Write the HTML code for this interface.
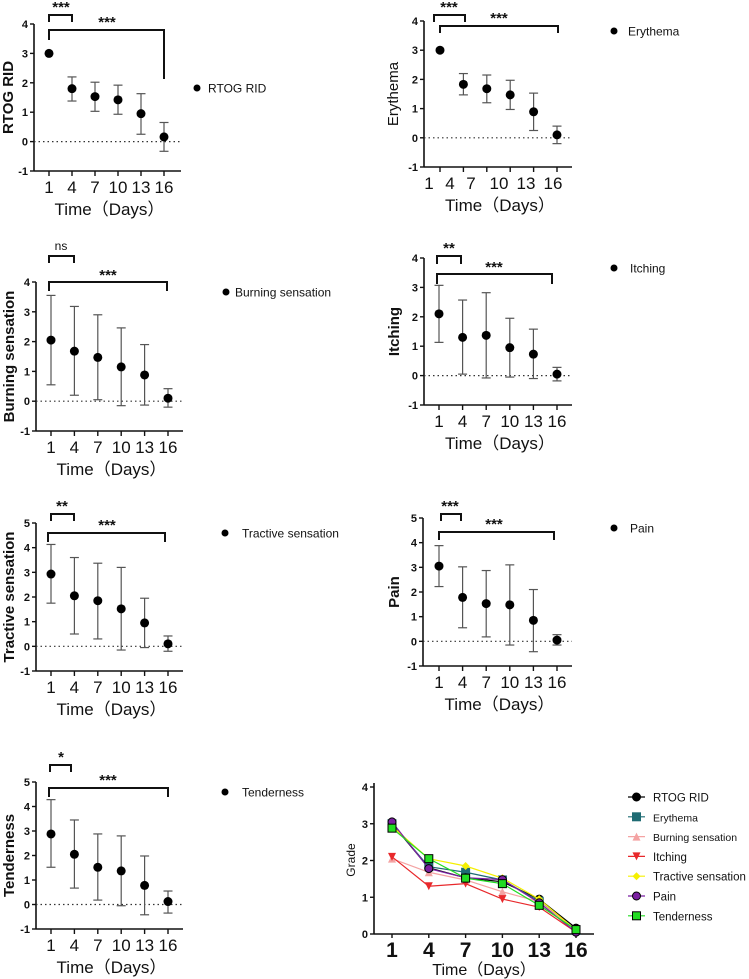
<!DOCTYPE html>
<html><head><meta charset="utf-8">
<style>
html,body{margin:0;padding:0;background:#fff;}
svg{display:block;font-family:"Liberation Sans",sans-serif;}
</style></head>
<body>
<svg id="fig" width="749" height="979" viewBox="0 0 749 979"></svg>
<script>
const days = [1,4,7,10,13,16];
const tickLabels = ["1","4","7","10","13","16"];
const rtogMean = [3,1.8,1.53,1.42,0.95,0.16];
const rtogHi = [3,2.2,2.02,1.92,1.63,0.65];
const rtogLo = [3,1.38,1.03,0.93,0.25,-0.33];
const eryMean = [3,1.83,1.68,1.47,0.89,0.1];
const eryHi = [3,2.2,2.15,1.97,1.53,0.4];
const eryLo = [3,1.47,1.2,0.97,0.25,-0.2];
const burnMean = [2.05,1.68,1.47,1.15,0.88,0.1];
const burnHi = [3.55,3.18,2.9,2.46,1.9,0.42];
const burnLo = [0.55,0.2,0.05,-0.15,-0.13,-0.2];
const itchMean = [2.1,1.3,1.37,0.95,0.73,0.05];
const itchHi = [3.07,2.57,2.82,1.95,1.58,0.28];
const itchLo = [1.13,0.05,-0.08,-0.05,-0.1,-0.18];
const tracMean = [2.93,2.05,1.85,1.52,0.95,0.1];
const tracHi = [4.13,3.6,3.37,3.2,1.95,0.42];
const tracLo = [1.75,0.5,0.3,-0.15,-0.05,-0.2];
const painMean = [3.05,1.78,1.53,1.48,0.85,0.05];
const painHi = [3.88,3.02,2.87,3.1,2.1,0.27];
const painLo = [2.22,0.55,0.18,-0.15,-0.42,-0.15];
const tendMean = [2.88,2.05,1.52,1.37,0.78,0.12];
const tendHi = [4.28,3.45,2.88,2.8,1.98,0.55];
const tendLo = [1.52,0.67,0.18,-0.05,-0.42,-0.35];
const yTicks4 = [-1,0,1,2,3,4];
const yTicks5 = [-1,0,1,2,3,4,5];
const gradeTicks = [0,1,2,3,4];

const NS="http://www.w3.org/2000/svg";
const svg=document.getElementById('fig');
function el(tag,attrs,parent,text){
  const e=document.createElementNS(NS,tag);
  for(const k in attrs) e.setAttribute(k,attrs[k]);
  if(text!==undefined) e.textContent=text;
  (parent||svg).appendChild(e);
  return e;
}

function panel(cfg){
  const g=el('g',{});
  
  
  const x0=cfg.x0, x1=cfg.x1;
  const xs=d=>x0+(d-1)*(x1-x0)/15;
  const ys=v=>cfg.yMin+(v-(-1))*(cfg.yTop-cfg.yMin)/(cfg.ticks[cfg.ticks.length-1]+1);
  const ya=el('line',{x1:cfg.ax,y1:ys(cfg.ticks[cfg.ticks.length-1]),x2:cfg.ax,y2:cfg.yMin,stroke:'#111','stroke-width':1.6},g);
   
  const xa=el('line',{x1:cfg.ax,y1:cfg.yMin,x2:cfg.axEnd,y2:cfg.yMin,stroke:'#111','stroke-width':1.6},g);
   
  cfg.ticks.forEach(t=>{
    el('line',{x1:cfg.ax-4,y1:ys(t),x2:cfg.ax,y2:ys(t),stroke:'#111','stroke-width':1.4},g);
    const tl=el('text',{x:cfg.ax-6,y:ys(t)+4,'text-anchor':'end','font-size':11,'font-weight':'bold',fill:'#111'},g,String(t));
     
  });
  days.forEach((d,i)=>{
    el('line',{x1:xs(d),y1:cfg.yMin,x2:xs(d),y2:cfg.yMin+5,stroke:'#111','stroke-width':1.4},g);
    const lx = cfg.labelX ? cfg.labelX[i] : xs(d);
    const tl=el('text',{x:lx,y:cfg.yMin+22,'text-anchor':'middle','font-size':17,fill:'#111'},g,tickLabels[i]);
     
  });
  el('line',{x1:cfg.ax,y1:ys(0),x2:cfg.axEnd,y2:ys(0),stroke:'#333','stroke-width':1.2,'stroke-dasharray':'1.5,3'},g);
  const xt=el('text',{x:(cfg.ax+cfg.axEnd)/2+2,y:cfg.yMin+44,'text-anchor':'middle','font-size':17,fill:'#111'},g,'Time（Days）');
   
  const ymid=(ys(cfg.ticks[cfg.ticks.length-1])+cfg.yMin)/2;
  const yt=el('text',{x:cfg.ytx,y:ymid,'text-anchor':'middle','font-size':15,'font-weight':cfg.ytBold?'bold':'normal',fill:'#111',transform:`rotate(-90 ${cfg.ytx} ${ymid})`},g,cfg.ytitle);
   
  days.forEach((d,i)=>{
    const x=xs(d);
    if(cfg.hi[i]!==cfg.lo[i]){
      el('line',{x1:x,y1:ys(cfg.hi[i]),x2:x,y2:ys(cfg.lo[i]),stroke:'#555','stroke-width':1.2},g);
      el('line',{x1:x-4.5,y1:ys(cfg.hi[i]),x2:x+4.5,y2:ys(cfg.hi[i]),stroke:'#555','stroke-width':1.2},g);
      el('line',{x1:x-4.5,y1:ys(cfg.lo[i]),x2:x+4.5,y2:ys(cfg.lo[i]),stroke:'#555','stroke-width':1.2},g);
    }
    const p=el('circle',{cx:x,cy:ys(cfg.mean[i]),r:4.5,fill:'#000'},g);
     
  });
  cfg.br.forEach(b=>{
    const path=`M${b.a},${b.la} L${b.a},${b.y} L${b.b},${b.y} L${b.b},${b.lb}`;
    const bp=el('path',{d:path,fill:'none',stroke:'#111','stroke-width':2},g);
     
    const st=el('text',{x:b.tx,y:b.ty,'text-anchor':'middle','font-size':b.s==='ns'?12:15,'font-weight':b.s==='ns'?'normal':'bold',fill:'#111'},g,b.s);
     
  });
  el('circle',{cx:cfg.lgx,cy:cfg.lgy,r:3.5,fill:'#000'},g);
  const lt=el('text',{x:cfg.lgx+cfg.lgdx,y:cfg.lgy+4.5,'font-size':12,fill:'#111'},g,cfg.ytitle);
   
}

panel({name:'rtog',x0:49,x1:164,ax:34,axEnd:181,yMin:171,yTop:24,ticks:yTicks4,mean:rtogMean,hi:rtogHi,lo:rtogLo,
  ytitle:'RTOG RID',ytx:13,ytBold:true,lgx:197,lgy:88,lgdx:11,
  br:[{a:49,b:72,y:15,la:22,lb:22,tx:61,ty:12,s:'***'},{a:49,b:164,y:30,la:40,lb:79,tx:107,ty:27,s:'***'}]});
panel({name:'erythema',x0:440,x1:557,ax:424,axEnd:572,yMin:167,yTop:21,ticks:yTicks4,mean:eryMean,hi:eryHi,lo:eryLo,
  ytitle:'Erythema',ytx:398,ytBold:false,lgx:614,lgy:31,lgdx:14,labelX:[429,450,471,499,526,553],
  br:[{a:434,b:465,y:15,la:22,lb:22,tx:449,ty:12,s:'***'},{a:440,b:558,y:26,la:33,lb:33,tx:499,ty:23,s:'***'}]});
panel({name:'burning',x0:51,x1:168,ax:36,axEnd:183,yMin:431,yTop:282,ticks:yTicks4,mean:burnMean,hi:burnHi,lo:burnLo,
  ytitle:'Burning sensation',ytx:14,ytBold:true,lgx:226,lgy:292,lgdx:9,
  br:[{a:49,b:74,y:256,la:263,lb:263,tx:61,ty:250,s:'ns'},{a:49,b:167,y:282,la:291,lb:291,tx:108,ty:280,s:'***'}]});
panel({name:'itching',x0:439,x1:557,ax:424,axEnd:572,yMin:405,yTop:258,ticks:yTicks4,mean:itchMean,hi:itchHi,lo:itchLo,
  ytitle:'Itching',ytx:399,ytBold:true,lgx:614,lgy:268,lgdx:16,
  br:[{a:437,b:461,y:256,la:264,lb:264,tx:449,ty:253,s:'**'},{a:437,b:552,y:274,la:284,lb:284,tx:494,ty:272,s:'***'}]});
panel({name:'tractive',x0:51,x1:168,ax:36,axEnd:183,yMin:671,yTop:523,ticks:yTicks5,mean:tracMean,hi:tracHi,lo:tracLo,
  ytitle:'Tractive sensation',ytx:14,ytBold:true,lgx:225,lgy:533,lgdx:17,
  br:[{a:51,b:74,y:514,la:521,lb:521,tx:62,ty:511,s:'**'},{a:48,b:165,y:533,la:542,lb:542,tx:107,ty:530,s:'***'}]});
panel({name:'pain',x0:439,x1:557,ax:423,axEnd:572,yMin:666,yTop:518,ticks:yTicks5,mean:painMean,hi:painHi,lo:painLo,
  ytitle:'Pain',ytx:399,ytBold:true,lgx:614,lgy:528,lgdx:16,
  br:[{a:441,b:461,y:514,la:521,lb:521,tx:450,ty:511,s:'***'},{a:439,b:554,y:532,la:540,lb:540,tx:494,ty:529,s:'***'}]});
panel({name:'tenderness',x0:51,x1:168,ax:36,axEnd:183,yMin:929,yTop:782,ticks:yTicks5,mean:tendMean,hi:tendHi,lo:tendLo,
  ytitle:'Tenderness',ytx:14,ytBold:true,lgx:225,lgy:792,lgdx:17,
  br:[{a:50,b:71,y:765,la:772,lb:772,tx:61,ty:762,s:'*'},{a:49,b:168,y:788,la:797,lb:797,tx:108,ty:785,s:'***'}]});

const seriesNames = ['RTOG RID','Erythema','Burning sensation','Itching','Tractive sensation','Pain','Tenderness'];
const seriesColors = ['#000000','#1f6b73','#f4a3a3','#e8282b','#f5f000','#7b1fa2','#22dd22'];
const seriesMarkers = ['circle','square','tri','tridown','diamond','circle','square'];
const seriesData = [rtogMean,eryMean,burnMean,itchMean,tracMean,painMean,tendMean];
(function(){
  const g=el('g',{});
  
  
  const ax=374, axEnd=594, y0=934, y4=787;
  const xs=d=>392+(d-1)*(576-392)/15;
  const ys=v=>y0+v*(y4-y0)/4;
  el('line',{x1:ax,y1:y4-4,x2:ax,y2:y0,stroke:'#111','stroke-width':1.6},g);
  el('line',{x1:ax,y1:y0,x2:axEnd,y2:y0,stroke:'#111','stroke-width':1.6},g);
  gradeTicks.forEach(t=>{
    el('line',{x1:ax-4,y1:ys(t),x2:ax,y2:ys(t),stroke:'#111','stroke-width':1.4},g);
    const tl=el('text',{x:ax-6,y:ys(t)+4,'text-anchor':'end','font-size':11,'font-weight':'bold',fill:'#111'},g,String(t));
     
  });
  days.forEach((d,i)=>{
    el('line',{x1:xs(d),y1:y0,x2:xs(d),y2:y0+4,stroke:'#111','stroke-width':1.4},g);
    const tl=el('text',{x:xs(d),y:y0+23,'text-anchor':'middle','font-size':21,'font-weight':'bold',fill:'#111'},g,tickLabels[i]);
     
  });
  const xt=el('text',{x:484,y:975,'text-anchor':'middle','font-size':16,fill:'#111'},g,'Time（Days）');
   
  const yt=el('text',{x:355,y:860,'text-anchor':'middle','font-size':12,fill:'#111',transform:'rotate(-90 355 860)'},g,'Grade');
   
  function marker(type,x,y,c,parent){
    const s=4;
    const stroke = (c==='#7b1fa2'||c==='#22dd22')?'#000':c;
    if(type==='circle') return el('circle',{cx:x,cy:y,r:s,fill:c,stroke:stroke,'stroke-width':1},parent);
    if(type==='square') return el('rect',{x:x-s,y:y-s,width:2*s,height:2*s,fill:c,stroke:stroke,'stroke-width':1},parent);
    if(type==='tri') return el('path',{d:`M${x},${y-s} L${x+s},${y+s} L${x-s},${y+s}Z`,fill:c},parent);
    if(type==='tridown') return el('path',{d:`M${x-s},${y-s} L${x+s},${y-s} L${x},${y+s}Z`,fill:c},parent);
    return el('path',{d:`M${x},${y-s} L${x+s},${y} L${x},${y+s} L${x-s},${y}Z`,fill:c},parent);
  }
  seriesData.forEach((arr,si)=>{
    const sg=el('g',{},g);
    
    
    const pts=days.map((d,i)=>xs(d)+','+ys(arr[i])).join(' ');
    el('polyline',{points:pts,fill:'none',stroke:seriesColors[si],'stroke-width':1.2},sg);
    days.forEach((d,i)=>marker(seriesMarkers[si],xs(d),ys(arr[i]),seriesColors[si],sg));
    const ly=797+si*19.8;
    const lg=el('g',{},g);
    
    
    el('line',{x1:628,y1:ly,x2:645,y2:ly,stroke:seriesColors[si],'stroke-width':1.2},lg);
    marker(seriesMarkers[si],636.5,ly,seriesColors[si],lg);
    el('text',{x:653,y:ly+4.5,'font-size':(si===1||si===2)?10.5:11.5,fill:'#111'},lg,seriesNames[si]);
  });
})();
</script>
</body></html>
